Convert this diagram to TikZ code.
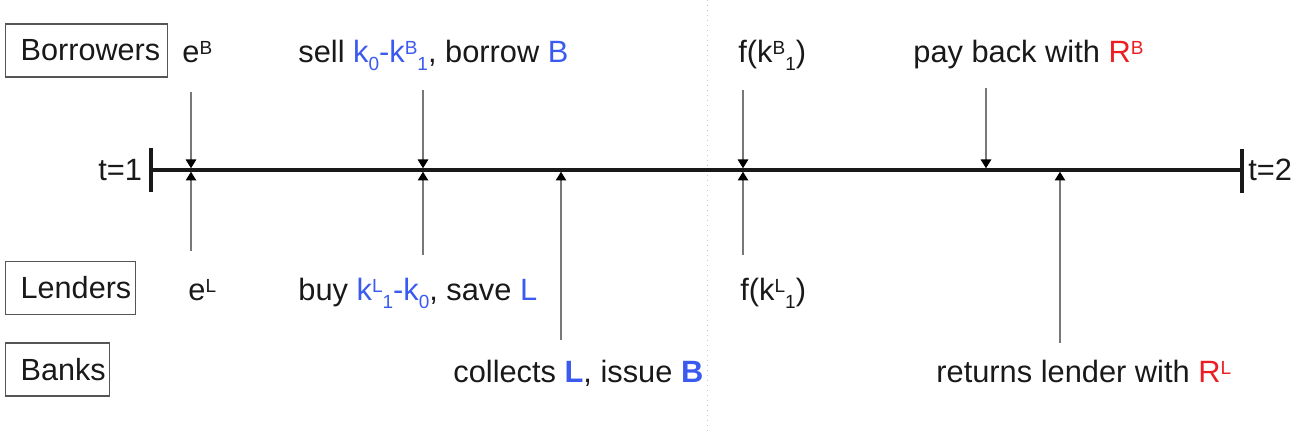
\documentclass[tikz,border=0pt]{standalone}
\usepackage{fontspec}
\setmainfont{Liberation Sans}
\usetikzlibrary{arrows.meta}
\definecolor{kblue}{RGB}{59,90,240}
\definecolor{kred}{RGB}{235,30,35}
\definecolor{ink}{RGB}{25,25,25}
\definecolor{boxgray}{RGB}{85,85,85}
\definecolor{shaft}{RGB}{120,120,120}
\definecolor{dotgray}{RGB}{200,200,200}
\newcommand\upx[1]{\raisebox{4.3pt}{\fontsize{9.5}{9.5}\selectfont #1}}
\newcommand\dnx[1]{\raisebox{-3.8pt}{\fontsize{9.5}{9.5}\selectfont #1}}
\newcommand\boxlbl[2]{\makebox[#1][l]{\hspace{7.5pt}#2}}
\begin{document}
\begin{tikzpicture}[x=0.5pt,y=-0.5pt,
  lbl/.style={anchor=base west, inner sep=0pt, text=ink, font=\fontsize{15.4}{18}\selectfont},
  actor/.style={draw=boxgray, line width=0.7pt, anchor=west, inner sep=0pt, minimum height=26.5pt, text=ink, font=\fontsize{15.3}{18}\selectfont},
  axis/.style={draw=ink, line width=1.7pt},
  arr/.style={draw=shaft, line width=0.75pt, -{Triangle[width=5.2pt,length=4.4pt,color=black]}},
  sep/.style={draw=dotgray, line width=0.5pt, dotted}]
\useasboundingbox (0,0) rectangle (1291,438);
% separator
\coordinate (sT) at (707,0); \coordinate (sB) at (707,432);
\draw[sep] (sT) -- (sB);
% timeline
\coordinate (tl) at (151,170); \coordinate (tr) at (1242,170);
\coordinate (tlT) at (151,148); \coordinate (tlB) at (151,192);
\coordinate (trT) at (1242,149); \coordinate (trB) at (1242,193);
\draw[axis] (tl) -- (tr);
\draw[axis] (tlT) -- (tlB);
\draw[axis] (trT) -- (trB);
\node[lbl] (t1) at (98,181) {t=1};
\node[lbl] (t2) at (1248,181) {t=2};
% actor boxes
\node[actor] (bor) at (5,50.5) {\boxlbl{81pt}{Borrowers}};
\node[actor] (len) at (5,288) {\boxlbl{65pt}{Lenders}};
\node[actor] (ban) at (5,369.5) {\boxlbl{52pt}{Banks}};
% labels
\node[lbl] (eB) at (182,63) {e\upx{B}};
\node[lbl] (sell) at (298,63) {sell {\color{kblue}k\dnx{0}-k\upx{B}\dnx{1}}, borrow {\color{kblue}B}};
\node[lbl] (fB) at (738,63) {f(k\upx{B}\dnx{1})};
\node[lbl] (pay) at (913,63) {pay back with {\color{kred}R\upx{B}}};
\node[lbl] (eL) at (188,301) {e\upx{L}};
\node[lbl] (buy) at (298,301) {buy {\color{kblue}k\upx{L}\dnx{1}-k\dnx{0}}, save {\color{kblue}L}};
\node[lbl] (fL) at (740,301) {f(k\upx{L}\dnx{1})};
\node[lbl] (coll) at (453,383) {collects {\color{kblue}\textbf{L}}, issue {\color{kblue}\textbf{B}}};
\node[lbl] (ret) at (936,383) {returns lender with {\color{kred}R\upx{L}}};
% arrow anchor points
\coordinate (a1s) at (191,92);  \coordinate (a1e) at (191,168.3);
\coordinate (a2s) at (423,90);  \coordinate (a2e) at (423,168.3);
\coordinate (a3s) at (743,90);  \coordinate (a3e) at (743,168.3);
\coordinate (a4s) at (986,88);  \coordinate (a4e) at (986,168.3);
\coordinate (b1s) at (191,251); \coordinate (b1e) at (191,171.7);
\coordinate (b2s) at (423,255); \coordinate (b2e) at (423,171.7);
\coordinate (b3s) at (561,340); \coordinate (b3e) at (561,171.7);
\coordinate (b4s) at (743,255); \coordinate (b4e) at (743,171.7);
\coordinate (b5s) at (1060,343); \coordinate (b5e) at (1060,171.7);
\foreach \p in {a1,a2,a3,a4,b1,b2,b3,b4,b5} {\draw[arr] (\p s) -- (\p e);}
\end{tikzpicture}
\end{document}
